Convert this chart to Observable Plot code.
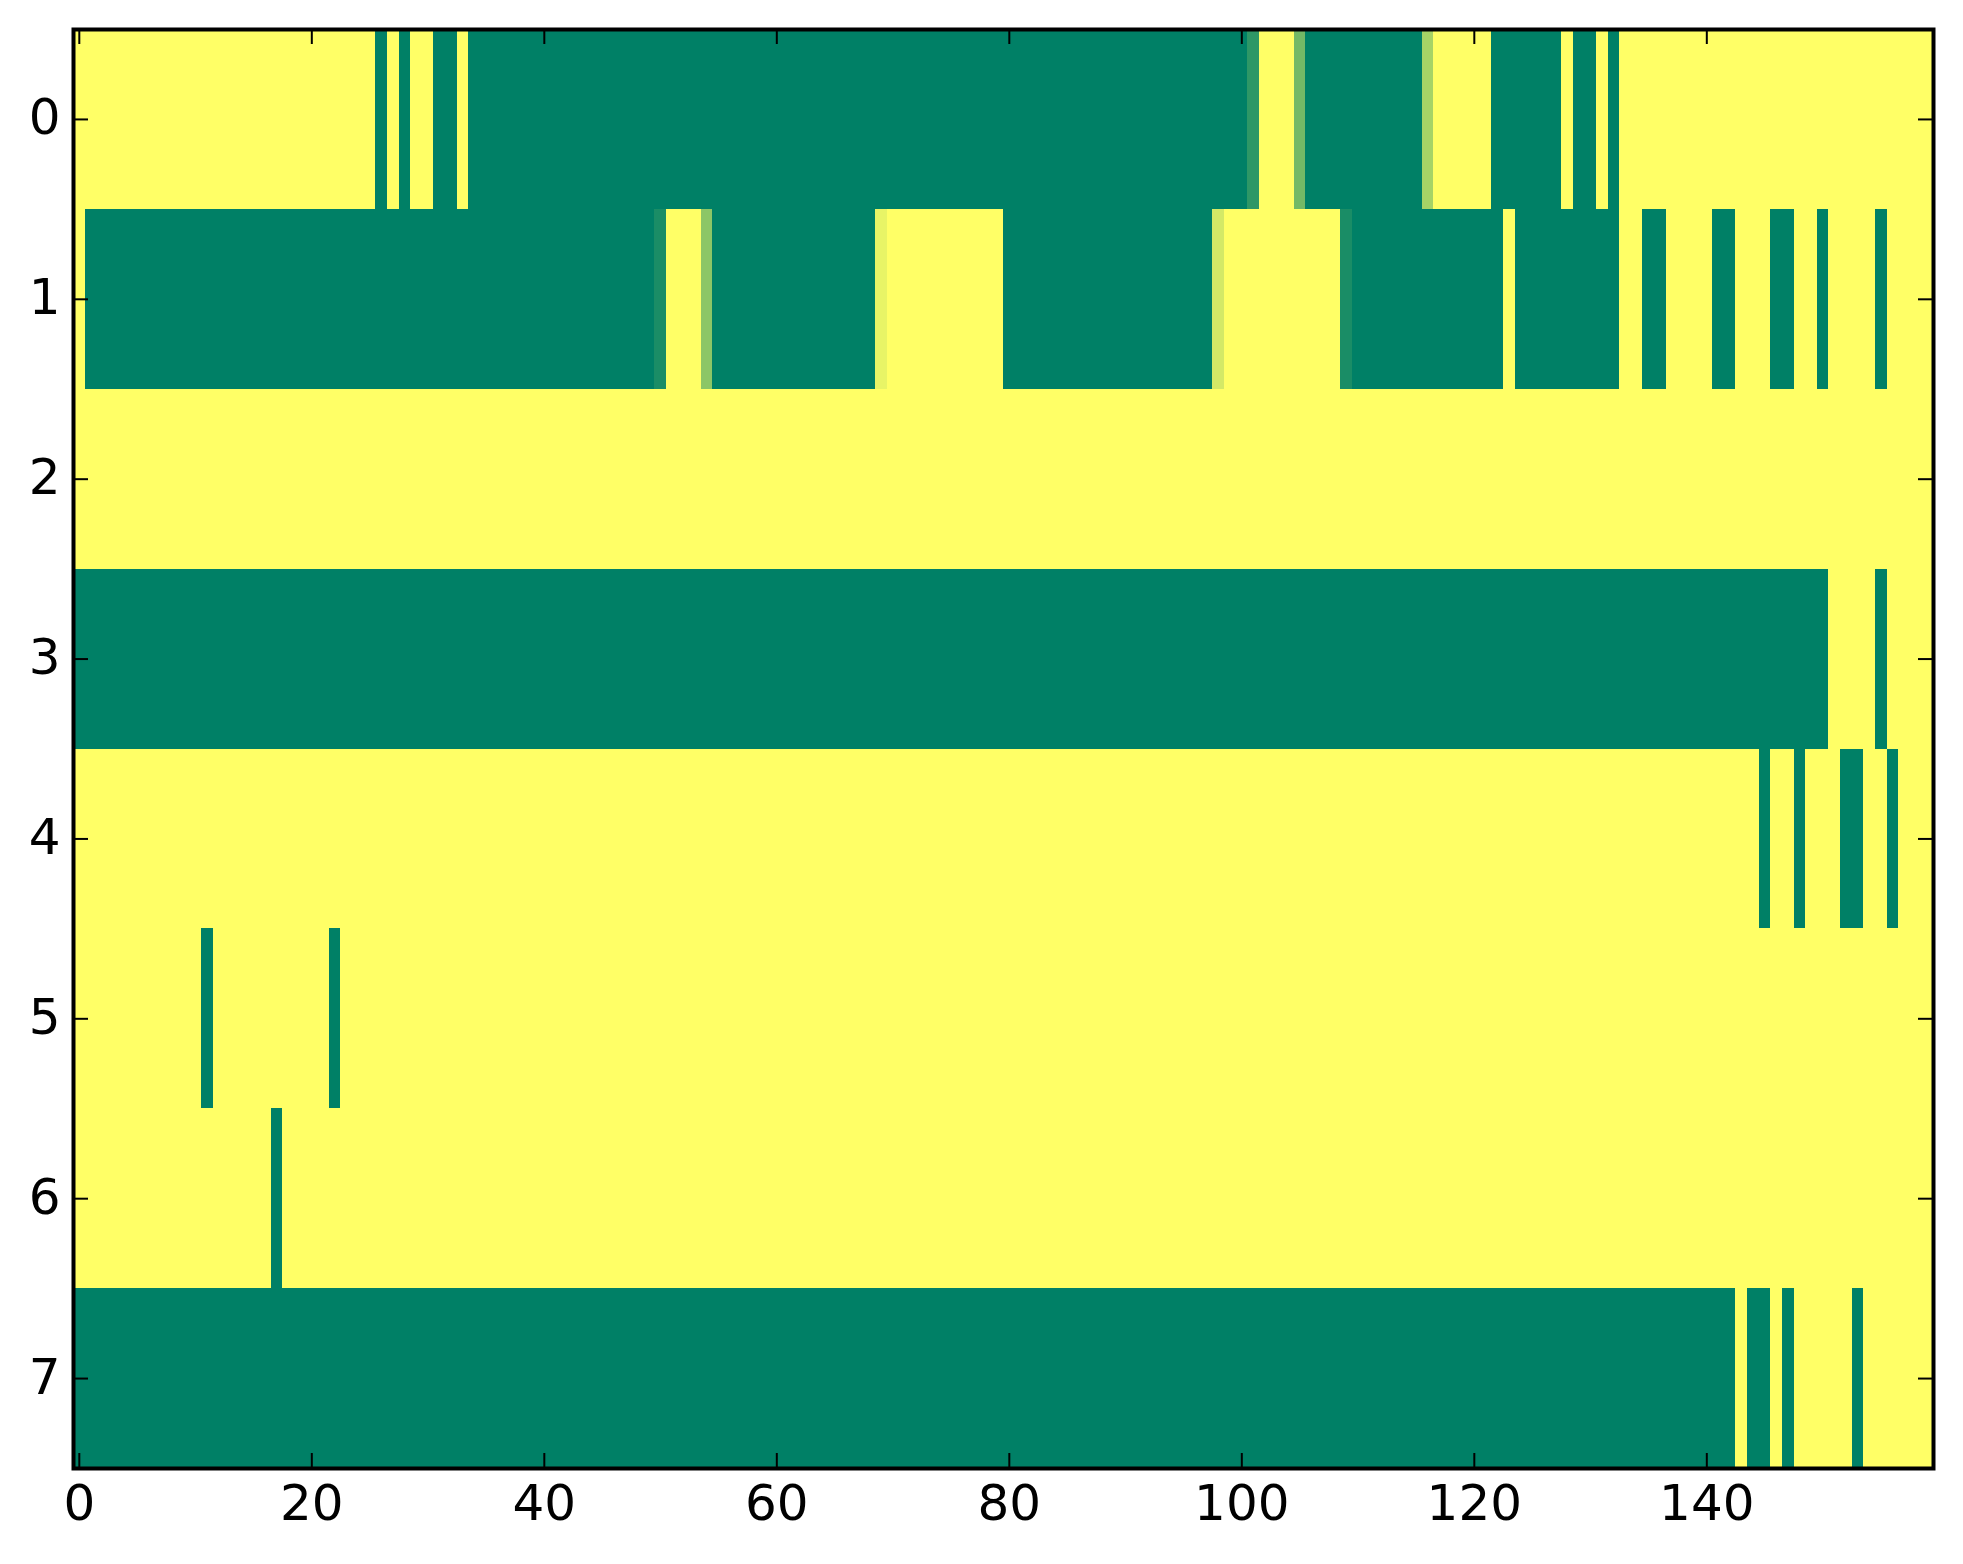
<!DOCTYPE html>
<html>
<head>
<meta charset="utf-8">
<script src="https://cdn.jsdelivr.net/npm/d3@7"></script>
<script src="https://cdn.jsdelivr.net/npm/@observablehq/plot@0.6"></script>
<style>
html, body { margin: 0; padding: 0; background: #ffffff; }
#chart svg { display: block; }
</style>
</head>
<body>
<div id="chart"></div>
<script>
// Row labels and x tick labels
const rowIndex = [0, 1, 2, 3, 4, 5, 6, 7];
const xTicks = [0, 20, 40, 60, 80, 100, 120, 140];

// Cell values per row (0 = green, 1 = yellow; "summer" colour map), 160 columns each
const row0 = [
  1,1,1,1,1,1,1,1,1,1,1,1,1,1,1,1,1,1,1,1,
  1,1,1,1,1,1,0,1,0,1,1,0,0,1,0,0,0,0,0,0,
  0,0,0,0,0,0,0,0,0,0,0,0,0,0,0,0,0,0,0,0,
  0,0,0,0,0,0,0,0,0,0,0,0,0,0,0,0,0,0,0,0,
  0,0,0,0,0,0,0,0,0,0,0,0,0,0,0,0,0,0,0,0,
  0,.18,1,1,1,.45,0,0,0,0,0,0,0,0,0,0,.65,1,1,1,
  1,1,0,0,0,0,0,0,1,0,0,1,0,1,1,1,1,1,1,1,
  1,1,1,1,1,1,1,1,1,1,1,1,1,1,1,1,1,1,1,1
];
const row1 = [
  1,0,0,0,0,0,0,0,0,0,0,0,0,0,0,0,0,0,0,0,
  0,0,0,0,0,0,0,0,0,0,0,0,0,0,0,0,0,0,0,0,
  0,0,0,0,0,0,0,0,0,0,.1,1,1,1,.55,0,0,0,0,0,
  0,0,0,0,0,0,0,0,0,.91,1,1,1,1,1,1,1,1,1,1,
  0,0,0,0,0,0,0,0,0,0,0,0,0,0,0,0,0,0,.83,1,
  1,1,1,1,1,1,1,1,1,.1,0,0,0,0,0,0,0,0,0,0,
  0,0,0,1,0,0,0,0,0,0,0,0,0,1,1,0,0,1,1,1,
  1,0,0,1,1,1,0,0,1,1,0,1,1,1,1,0,1,1,1,1
];
const row2 = [
  1,1,1,1,1,1,1,1,1,1,1,1,1,1,1,1,1,1,1,1,
  1,1,1,1,1,1,1,1,1,1,1,1,1,1,1,1,1,1,1,1,
  1,1,1,1,1,1,1,1,1,1,1,1,1,1,1,1,1,1,1,1,
  1,1,1,1,1,1,1,1,1,1,1,1,1,1,1,1,1,1,1,1,
  1,1,1,1,1,1,1,1,1,1,1,1,1,1,1,1,1,1,1,1,
  1,1,1,1,1,1,1,1,1,1,1,1,1,1,1,1,1,1,1,1,
  1,1,1,1,1,1,1,1,1,1,1,1,1,1,1,1,1,1,1,1,
  1,1,1,1,1,1,1,1,1,1,1,1,1,1,1,1,1,1,1,1
];
const row3 = [
  0,0,0,0,0,0,0,0,0,0,0,0,0,0,0,0,0,0,0,0,
  0,0,0,0,0,0,0,0,0,0,0,0,0,0,0,0,0,0,0,0,
  0,0,0,0,0,0,0,0,0,0,0,0,0,0,0,0,0,0,0,0,
  0,0,0,0,0,0,0,0,0,0,0,0,0,0,0,0,0,0,0,0,
  0,0,0,0,0,0,0,0,0,0,0,0,0,0,0,0,0,0,0,0,
  0,0,0,0,0,0,0,0,0,0,0,0,0,0,0,0,0,0,0,0,
  0,0,0,0,0,0,0,0,0,0,0,0,0,0,0,0,0,0,0,0,
  0,0,0,0,0,0,0,0,0,0,0,1,1,1,1,0,1,1,1,1
];
const row4 = [
  1,1,1,1,1,1,1,1,1,1,1,1,1,1,1,1,1,1,1,1,
  1,1,1,1,1,1,1,1,1,1,1,1,1,1,1,1,1,1,1,1,
  1,1,1,1,1,1,1,1,1,1,1,1,1,1,1,1,1,1,1,1,
  1,1,1,1,1,1,1,1,1,1,1,1,1,1,1,1,1,1,1,1,
  1,1,1,1,1,1,1,1,1,1,1,1,1,1,1,1,1,1,1,1,
  1,1,1,1,1,1,1,1,1,1,1,1,1,1,1,1,1,1,1,1,
  1,1,1,1,1,1,1,1,1,1,1,1,1,1,1,1,1,1,1,1,
  1,1,1,1,1,0,1,1,0,1,1,1,0,0,1,1,0,1,1,1
];
const row5 = [
  1,1,1,1,1,1,1,1,1,1,1,0,1,1,1,1,1,1,1,1,
  1,1,0,1,1,1,1,1,1,1,1,1,1,1,1,1,1,1,1,1,
  1,1,1,1,1,1,1,1,1,1,1,1,1,1,1,1,1,1,1,1,
  1,1,1,1,1,1,1,1,1,1,1,1,1,1,1,1,1,1,1,1,
  1,1,1,1,1,1,1,1,1,1,1,1,1,1,1,1,1,1,1,1,
  1,1,1,1,1,1,1,1,1,1,1,1,1,1,1,1,1,1,1,1,
  1,1,1,1,1,1,1,1,1,1,1,1,1,1,1,1,1,1,1,1,
  1,1,1,1,1,1,1,1,1,1,1,1,1,1,1,1,1,1,1,1
];
const row6 = [
  1,1,1,1,1,1,1,1,1,1,1,1,1,1,1,1,1,0,1,1,
  1,1,1,1,1,1,1,1,1,1,1,1,1,1,1,1,1,1,1,1,
  1,1,1,1,1,1,1,1,1,1,1,1,1,1,1,1,1,1,1,1,
  1,1,1,1,1,1,1,1,1,1,1,1,1,1,1,1,1,1,1,1,
  1,1,1,1,1,1,1,1,1,1,1,1,1,1,1,1,1,1,1,1,
  1,1,1,1,1,1,1,1,1,1,1,1,1,1,1,1,1,1,1,1,
  1,1,1,1,1,1,1,1,1,1,1,1,1,1,1,1,1,1,1,1,
  1,1,1,1,1,1,1,1,1,1,1,1,1,1,1,1,1,1,1,1
];
const row7 = [
  0,0,0,0,0,0,0,0,0,0,0,0,0,0,0,0,0,0,0,0,
  0,0,0,0,0,0,0,0,0,0,0,0,0,0,0,0,0,0,0,0,
  0,0,0,0,0,0,0,0,0,0,0,0,0,0,0,0,0,0,0,0,
  0,0,0,0,0,0,0,0,0,0,0,0,0,0,0,0,0,0,0,0,
  0,0,0,0,0,0,0,0,0,0,0,0,0,0,0,0,0,0,0,0,
  0,0,0,0,0,0,0,0,0,0,0,0,0,0,0,0,0,0,0,0,
  0,0,0,0,0,0,0,0,0,0,0,0,0,0,0,0,0,0,0,0,
  0,0,0,1,0,0,1,0,1,1,1,1,1,0,1,1,1,1,1,1
];

const rows = [row0, row1, row2, row3, row4, row5, row6, row7];
const nCols = row0.length;
const cells = rows.flatMap((r, i) => r.map((v, j) => ({row: rowIndex[i], col: j, v})));

const W = 1963, H = 1564;
const mL = 73, mT = 29, mR = 30, mB = 96;
const frameW = W - mL - mR, frameH = H - mT - mB;
const tickLen = 15;

const chart = Plot.plot({
  width: W,
  height: H,
  marginLeft: mL,
  marginTop: mT,
  marginRight: mR,
  marginBottom: mB,
  style: {fontFamily: "'DejaVu Sans', sans-serif", background: "#ffffff"},
  x: {type: "linear", domain: [-0.5, nCols - 0.5], nice: false, label: null},
  y: {type: "linear", domain: [-0.5, rows.length - 0.5], reverse: true, nice: false, label: null},
  color: {type: "linear", domain: [0, 1], range: ["#008066", "#ffff66"], interpolate: "rgb"},
  marks: [
    Plot.rect(cells, {
      x1: d => d.col - 0.5, x2: d => d.col + 0.5,
      y1: d => d.row - 0.5, y2: d => d.row + 0.5,
      fill: "v", shapeRendering: "crispEdges"
    }),
    // inward ticks on all four sides
    Plot.tickX(xTicks, {x: d => d, stroke: "black", strokeWidth: 2, insetTop: frameH - tickLen}),
    Plot.tickX(xTicks, {x: d => d, stroke: "black", strokeWidth: 2, insetBottom: frameH - tickLen}),
    Plot.tickY(rowIndex, {y: d => d, stroke: "black", strokeWidth: 2, insetRight: frameW - tickLen}),
    Plot.tickY(rowIndex, {y: d => d, stroke: "black", strokeWidth: 2, insetLeft: frameW - tickLen}),
    Plot.axisX({anchor: "bottom", ticks: xTicks, tickSize: 0, tickPadding: 16, fontSize: 50, label: null, tickFormat: d => String(d)}),
    Plot.axisY({anchor: "left", ticks: rowIndex, tickSize: 0, tickPadding: 13, fontSize: 50, label: null, tickFormat: d => String(d), dy: -1}),
    Plot.frame({stroke: "black", strokeWidth: 4})
  ]
});
document.getElementById("chart").appendChild(chart);
</script>
</body>
</html>
